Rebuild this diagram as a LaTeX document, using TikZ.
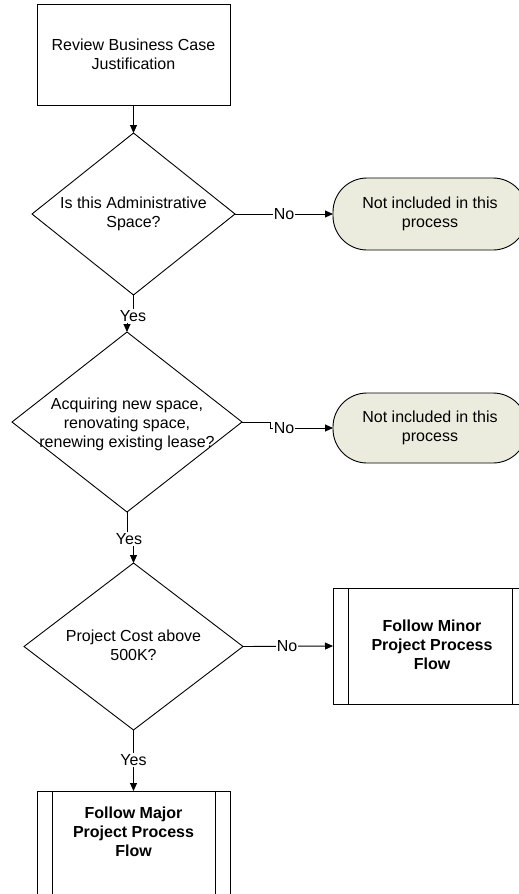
\documentclass[tikz,border=0pt]{standalone}
\usepackage{fontspec}
\setmainfont{Liberation Sans}
\usetikzlibrary{shapes.geometric,arrows.meta}
\definecolor{termfill}{RGB}{236,236,222}

\begin{document}
\begin{tikzpicture}[x=1pt,y=-1pt,
  every node/.style={font=\fontsize{16}{19}\selectfont},
  base/.style={draw=black, line width=0.9pt, inner sep=0pt, outer sep=0pt},
  procbox/.style={base, rectangle, minimum width=193pt, minimum height=101pt, align=center},
  decision/.style={base, diamond},
  terminal/.style={base, rectangle, rounded corners=34pt, fill=termfill,
                   minimum width=194pt, align=center},
  predef/.style={base, rectangle, minimum width=194pt, minimum height=116pt},
  txt/.style={align=center, inner sep=0pt},
  flow/.style={draw=black, line width=0.9pt, -{Triangle[length=8pt,width=7pt]}},
  lbl/.style={fill=white, inner sep=1pt},
]
\useasboundingbox (0,0) rectangle (519,894);

% process and decision shapes
\node[procbox] (review) at (133.5,54.5) {Review Business Case\\Justification};

\node[decision, minimum width=203pt, minimum height=162pt] (d1) at (133.5,214) {};
\node[txt] (d1t) at (d1) {Is this Administrative\\Space?};

\node[terminal, minimum height=72pt] (t1) at (430,214) {Not included in this\\process};

\node[decision, minimum width=230pt, minimum height=180pt] (d2) at (127,422) {};
\node[txt] (d2t) at (127,424) {Acquiring new space,\\renovating space,\\renewing existing lease?};

\node[terminal, minimum height=70pt] (t2) at (430,428) {Not included in this\\process};

\node[decision, minimum width=219pt, minimum height=167pt] (d3) at (133.5,646.5) {};
\node[txt] (d3t) at (133.5,645.5) {Project Cost above\\500K?};

% predefined-process boxes
\node[predef] (minor) at (430,646) {};
\node[txt, font=\fontsize{16}{19}\selectfont\bfseries] (minort) at (432,645) {Follow Minor\\Project Process\\Flow};
\draw[base] ([xshift=15pt]minor.north west) -- ([xshift=15pt]minor.south west);
\draw[base] ([xshift=-15pt]minor.north east) -- ([xshift=-15pt]minor.south east);

\node[predef, minimum width=193pt] (major) at (133.5,849) {};
\node[txt, font=\fontsize{16}{19}\selectfont\bfseries] (majort) at (133.5,832) {Follow Major\\Project Process\\Flow};
\draw[base] ([xshift=15pt]major.north west) -- ([xshift=15pt]major.south west);
\draw[base] ([xshift=-15pt]major.north east) -- ([xshift=-15pt]major.south east);

% label positions
\coordinate (y1c) at (133,316);
\coordinate (y2c) at (129,539);
\coordinate (y3c) at (133.5,760);

% connectors
\draw[flow] (review.south) -- (d1.north);
\draw[flow] (d1.east) -- (t1.west);
\draw[flow] (d1.south) -- (d1.south |- y1c) -- (d2.north |- y1c) -- (d2.north);
\draw[flow] (d2.east) -- ++(28,0) |- (t2.west);
\draw[flow] (d2.south) -- (d2.south |- y2c) -- (d3.north |- y2c) -- (d3.north);
\draw[flow] (d3.east) -- (minor.west);
\draw[flow] (d3.south) -- (major.north);

% connector labels
\node[lbl] (no1) at (284,214) {No};
\node[lbl] (yes1) at (y1c) {Yes};
\node[lbl] (no2) at (284,428) {No};
\node[lbl] (yes2) at (y2c) {Yes};
\node[lbl] (no3) at (287,646) {No};
\node[lbl] (yes3) at (y3c) {Yes};
\end{tikzpicture}
\end{document}
